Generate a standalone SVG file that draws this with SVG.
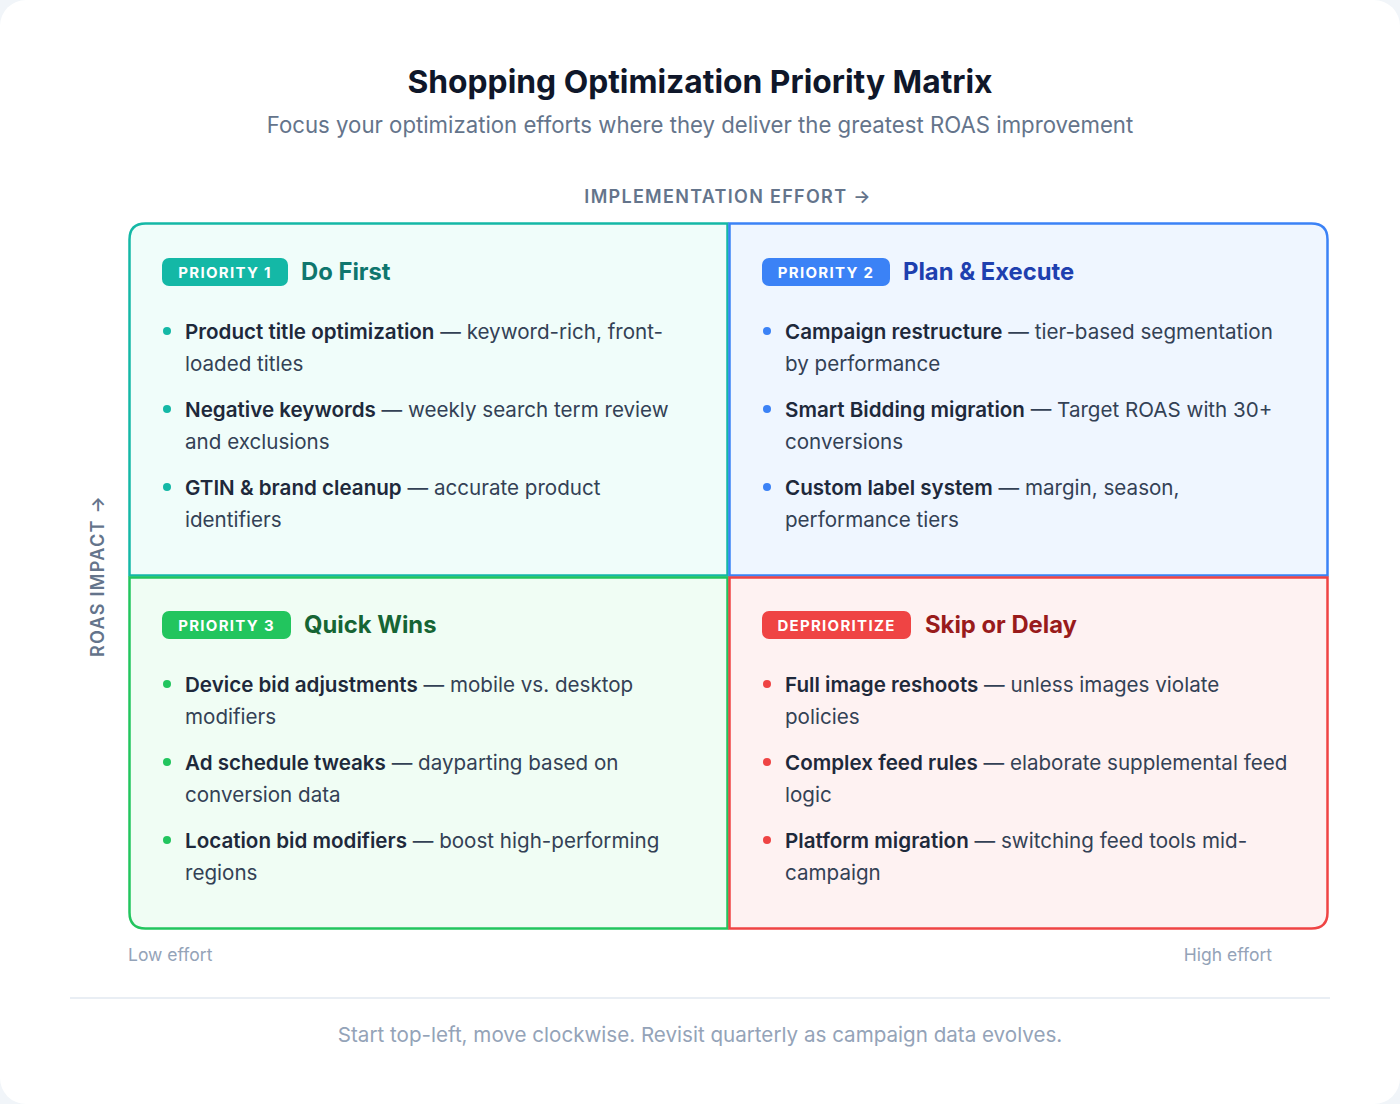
<svg xmlns="http://www.w3.org/2000/svg" width="1400" height="1104" viewBox="0 0 1400 1104">
<style>
text{font-family:Inter,"Liberation Sans",sans-serif}
.title{font-size:31.8px;font-weight:700;fill:#0f172a}
.sub{font-size:22.2px;fill:#64748b}
.axis{font-size:18px;font-weight:600;fill:#64748b;letter-spacing:1.3px}
.small{font-size:17.5px;fill:#94a3b8}
.foot{font-size:20.6px;fill:#94a3b8}
.badge{font-size:15px;font-weight:700;fill:#fff;letter-spacing:1.3px}
.qt{font-size:23.8px;font-weight:700}
.it{font-size:20.6px;fill:#334155}
.it tspan.b{font-weight:600;fill:#1e293b}
</style>
<rect x="0" y="0" width="1400" height="1104" fill="#f1f5f9"/>
<rect x="0" y="0" width="1400" height="1104" rx="26" fill="#ffffff"/>
<text class="title" x="700" y="93" text-anchor="middle">Shopping Optimization Priority Matrix</text>
<text class="sub" x="700" y="133" text-anchor="middle">Focus your optimization efforts where they deliver the greatest ROAS improvement</text>
<text class="axis" x="728" y="203" text-anchor="middle">IMPLEMENTATION EFFORT →</text>
<text class="axis" transform="translate(104,576) rotate(-90)" text-anchor="middle">ROAS IMPACT →</text>

<g id="q1">
<path d="M129.5,575.5 V239.5 Q129.5,223.5 145.5,223.5 H727.5 V575.5 Z" fill="#f0fdfa" stroke="#14b8a6" stroke-width="2.5"/>
<rect x="162" y="258" width="126" height="28" rx="7" fill="#14b8a6"/>
<text class="badge" x="225" y="278" text-anchor="middle">PRIORITY 1</text>
<text class="qt" x="301" y="280" fill="#0f766e">Do First</text>
<g fill="#14b8a6"><circle cx="167" cy="331" r="4"/><circle cx="167" cy="409" r="4"/><circle cx="167" cy="487" r="4"/></g>
<text class="it" x="185" y="339"><tspan class="b">Product title optimization</tspan> — keyword-rich, front-</text>
<text class="it" x="185" y="371">loaded titles</text>
<text class="it" x="185" y="417"><tspan class="b">Negative keywords</tspan> — weekly search term review</text>
<text class="it" x="185" y="449">and exclusions</text>
<text class="it" x="185" y="495"><tspan class="b">GTIN &amp; brand cleanup</tspan> — accurate product</text>
<text class="it" x="185" y="527">identifiers</text>
</g>

<g id="q2">
<path d="M729.5,223.5 H1311.5 Q1327.5,223.5 1327.5,239.5 V575.5 H729.5 Z" fill="#eff6ff" stroke="#3b82f6" stroke-width="2.5"/>
<rect x="762" y="258" width="128" height="28" rx="7" fill="#3b82f6"/>
<text class="badge" x="826" y="278" text-anchor="middle">PRIORITY 2</text>
<text class="qt" x="903" y="280" fill="#1e40af">Plan &amp; Execute</text>
<g fill="#3b82f6"><circle cx="767" cy="331" r="4"/><circle cx="767" cy="409" r="4"/><circle cx="767" cy="487" r="4"/></g>
<text class="it" x="785" y="339"><tspan class="b">Campaign restructure</tspan> — tier-based segmentation</text>
<text class="it" x="785" y="371">by performance</text>
<text class="it" x="785" y="417"><tspan class="b">Smart Bidding migration</tspan> — Target ROAS with 30+</text>
<text class="it" x="785" y="449">conversions</text>
<text class="it" x="785" y="495"><tspan class="b">Custom label system</tspan> — margin, season,</text>
<text class="it" x="785" y="527">performance tiers</text>
</g>

<g id="q3">
<path d="M129.5,577.5 H727.5 V928.5 H145.5 Q129.5,928.5 129.5,912.5 Z" fill="#f0fdf4" stroke="#22c55e" stroke-width="2.5"/>
<rect x="162" y="611" width="129" height="28" rx="7" fill="#22c55e"/>
<text class="badge" x="226.5" y="631" text-anchor="middle">PRIORITY 3</text>
<text class="qt" x="304" y="633" fill="#166534">Quick Wins</text>
<g fill="#22c55e"><circle cx="167" cy="684" r="4"/><circle cx="167" cy="762" r="4"/><circle cx="167" cy="840" r="4"/></g>
<text class="it" x="185" y="692"><tspan class="b">Device bid adjustments</tspan> — mobile vs. desktop</text>
<text class="it" x="185" y="724">modifiers</text>
<text class="it" x="185" y="770"><tspan class="b">Ad schedule tweaks</tspan> — dayparting based on</text>
<text class="it" x="185" y="802">conversion data</text>
<text class="it" x="185" y="848"><tspan class="b">Location bid modifiers</tspan> — boost high-performing</text>
<text class="it" x="185" y="880">regions</text>
</g>

<g id="q4">
<path d="M729.5,577.5 H1327.5 V912.5 Q1327.5,928.5 1311.5,928.5 H729.5 Z" fill="#fef2f2" stroke="#ef4444" stroke-width="2.5"/>
<rect x="762" y="611" width="149" height="28" rx="7" fill="#ef4444"/>
<text class="badge" x="836.5" y="631" text-anchor="middle">DEPRIORITIZE</text>
<text class="qt" x="925" y="633" fill="#991b1b">Skip or Delay</text>
<g fill="#ef4444"><circle cx="767" cy="684" r="4"/><circle cx="767" cy="762" r="4"/><circle cx="767" cy="840" r="4"/></g>
<text class="it" x="785" y="692"><tspan class="b">Full image reshoots</tspan> — unless images violate</text>
<text class="it" x="785" y="724">policies</text>
<text class="it" x="785" y="770"><tspan class="b">Complex feed rules</tspan> — elaborate supplemental feed</text>
<text class="it" x="785" y="802">logic</text>
<text class="it" x="785" y="848"><tspan class="b">Platform migration</tspan> — switching feed tools mid-</text>
<text class="it" x="785" y="880">campaign</text>
</g>

<text class="small" x="128" y="961">Low effort</text>
<text class="small" x="1272" y="961" text-anchor="end">High effort</text>
<line x1="70" y1="998" x2="1330" y2="998" stroke="#e2e8f0" stroke-width="1.5"/>
<text class="foot" x="700" y="1042" text-anchor="middle">Start top-left, move clockwise. Revisit quarterly as campaign data evolves.</text>
</svg>
